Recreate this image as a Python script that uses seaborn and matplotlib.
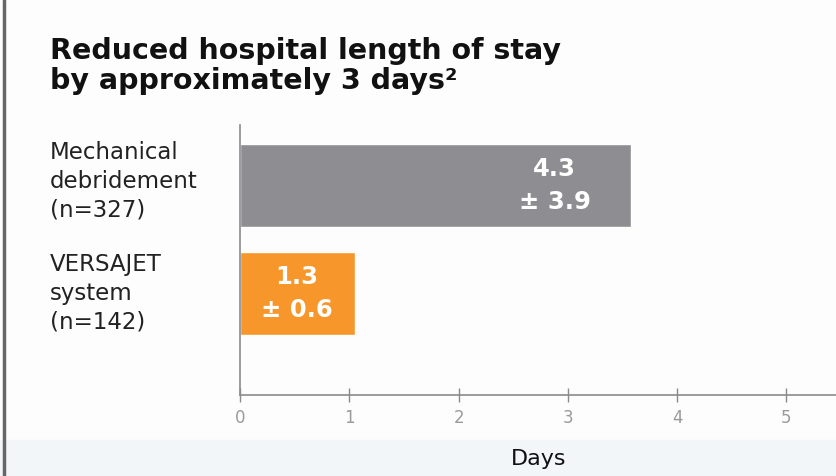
import seaborn as sns
import matplotlib.pyplot as plt
from matplotlib.patches import Rectangle

# Data
groups = ["Mechanical\ndebridement\n(n=327)", "VERSAJET\nsystem\n(n=142)"]
bar_days = [3.58, 1.05]  # bar lengths as drawn
bar_labels = ["4.3\n± 3.9", "1.3\n± 0.6"]
label_x = [2.88, 0.52]
colors = ["#8e8d92", "#f7962a"]
ticks = [0, 1, 2, 3, 4, 5]

sns.set_theme(style="white")
plt.rcParams["font.family"] = ["DejaVu Sans"]

W, H = 837, 476
fig = plt.figure(figsize=(W / 100, H / 100), dpi=100)
fig.patch.set_facecolor("#fdfdfd")

# faint bottom band and left border
fig.add_artist(Rectangle((0, 0), 1, 36 / H, transform=fig.transFigure,
                         color="#f3f6f9", zorder=0))
fig.add_artist(plt.Line2D([4 / W, 4 / W], [0, 1], transform=fig.transFigure,
                          color="#666666", lw=2.5))

ax = fig.add_axes([240 / W, 1 - 395 / H, (W - 240) / W, 270 / H])
ax.set_facecolor("none")

sns.barplot(x=bar_days, y=groups, hue=groups, palette=colors, orient="h",
            width=0.76, legend=False, saturation=1, ax=ax)

ax.set_xlim(0, (W - 240) / 109.3)
ax.set_ylim(1.94, -0.56)
ax.set_xticks(ticks)
ax.set_xticklabels([str(t) for t in ticks], color="#9a9a9a", fontsize=12)
ax.tick_params(axis="x", direction="inout", length=10, width=1,
               color="#8a8a8a", pad=5, bottom=True)
ax.set_yticks([])
ax.set_ylabel("")
ax.set_xlabel("Days", fontsize=16, color="#111111", labelpad=16)

for s in ["top", "right"]:
    ax.spines[s].set_visible(False)
for s in ["left", "bottom"]:
    ax.spines[s].set_visible(True)
    ax.spines[s].set_color("#8a8a8a")
    ax.spines[s].set_linewidth(1.2)

# group labels to the left of the axis
for i, g in enumerate(groups):
    y_px = ax.transData.transform((0, i))[1] + (4 if i == 0 else 0)
    fig.text(50 / W, y_px / H, g, fontsize=16.5, color="#222222",
             ha="left", va="center", linespacing=1.32)

# value labels inside bars
for i, (lx, lab) in enumerate(zip(label_x, bar_labels)):
    ax.text(lx, i, lab, color="white", fontsize=17.5, fontweight="bold",
            ha="center", va="center", linespacing=1.45)

fig.text(50 / W, 1 - 37 / H, "Reduced hospital length of stay\nby approximately 3 days²",
         fontsize=20.5, fontweight="bold", color="#111111", ha="left", va="top",
         linespacing=1.1)

fig.savefig("out.png", dpi=100, facecolor=fig.get_facecolor())
